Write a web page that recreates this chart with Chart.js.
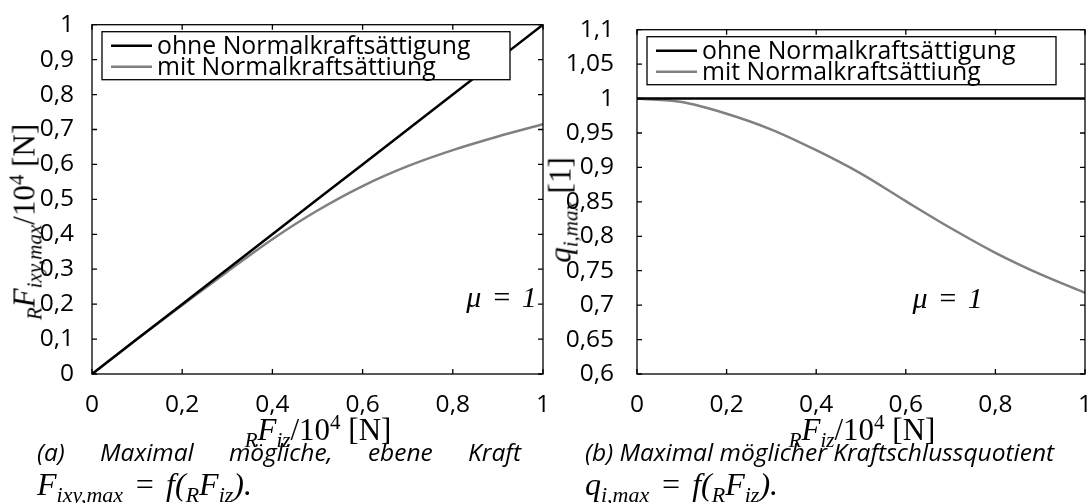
<!DOCTYPE html>
<html>
<head>
<meta charset="utf-8">
<script src="https://cdn.jsdelivr.net/npm/chart.js@4/dist/chart.umd.min.js"></script>
<style>
body { margin: 0; width: 1091px; height: 503px; overflow: hidden; background: #fff; position: relative; }
canvas { position: absolute; top: 0; }
.lbl { position: absolute; white-space: nowrap; font-family: "Liberation Serif", serif; font-size: 31px; color: #000; line-height: 1; }
.lbl i { font-style: italic; }
.lbl sub, .lbl sup { font-size: 21px; line-height: 0; }
.rot { transform: translate(-50%, -50%) rotate(-90deg); }
.cap { position: absolute; font-family: "Open Sans", sans-serif; font-style: italic; font-size: 24.5px; color: #000; line-height: 32px; white-space: nowrap; }
.cap .m { font-family: "Liberation Serif", serif; font-size: 32px; }
.cap sub { font-size: 22px; line-height: 0; }
</style>
</head>
<body>
<canvas id="chartA" width="560" height="420" style="left:0"></canvas>
<canvas id="chartB" width="555" height="420" style="left:545px"></canvas>

<div class="lbl" style="left:318px; top:414px; transform:translateX(-50%)"><i><sub>R</sub>F<sub>iz</sub></i>/10<sup>4</sup> [N]</div>
<div class="lbl" style="left:862px; top:414px; transform:translateX(-50%)"><i><sub>R</sub>F<sub>iz</sub></i>/10<sup>4</sup> [N]</div>
<div class="lbl rot" style="left:24px; top:222px"><i><sub>R</sub>F<sub>ixy,max</sub></i>/10<sup>4</sup> [N]</div>
<div class="lbl rot" style="left:560px; top:210px"><i>q<sub>i,max</sub></i> [1]</div>

<div class="cap" style="left:37px; top:436px; width:484px; text-align:justify; text-align-last:justify">(a) Maximal mögliche, ebene Kraft</div>
<div class="cap" style="left:37px; top:468px"><span class="m"><i>F<sub>ixy,max</sub></i>&#8196;=&#8196;<i>f</i>(<i><sub>R</sub>F<sub>iz</sub></i>).</span></div>
<div class="cap" style="left:585px; top:436px">(b) Maximal möglicher Kraftschlussquotient</div>
<div class="cap" style="left:585px; top:468px"><span class="m"><i>q<sub>i,max</sub></i>&#8196;=&#8196;<i>f</i>(<i><sub>R</sub>F<sub>iz</sub></i>).</span></div>

<script>
// values
const fz = [0, 0.1, 0.2, 0.3, 0.4, 0.5, 0.6, 0.7, 0.8, 0.9, 1];
const fxyOhne = [0, 0.1, 0.2, 0.3, 0.4, 0.5, 0.6, 0.7, 0.8, 0.9, 1];
const fxyMit = [0, 0.1, 0.197, 0.293, 0.386, 0.468, 0.538, 0.595, 0.641, 0.68, 0.715];
const qOhne = [1, 1, 1, 1, 1, 1, 1, 1, 1, 1, 1];
const qMit = [1, 0.995, 0.978, 0.955, 0.925, 0.891, 0.851, 0.812, 0.776, 0.745, 0.718];
const seriesNames = ['ohne Normalkraftsättigung', 'mit Normalkraftsättiung'];
const muText = '\u03bc\u2004=\u20041';

const tickFont = { family: 'Open Sans', size: 24.5 };
const fmt = v => String(Math.round(v * 100) / 100).replace('.', ',');
const pts = (xs, ys) => xs.map((x, i) => ({ x: x, y: ys[i] }));

// frame with inward ticks, legend box and the mu note
const framePlugin = {
    id: 'frame',
    afterDatasetsDraw(chart, args, opts) {
        const ctx = chart.ctx;
        const a = chart.chartArea;
        const sx = chart.scales.x, sy = chart.scales.y;
        ctx.save();
        ctx.strokeStyle = '#000';
        ctx.lineWidth = 1.3;
        ctx.strokeRect(a.left, a.top, a.right - a.left, a.bottom - a.top);
        ctx.beginPath();
        sx.ticks.forEach(t => {
            const px = sx.getPixelForValue(t.value);
            ctx.moveTo(px, a.bottom); ctx.lineTo(px, a.bottom - 5);
            ctx.moveTo(px, a.top); ctx.lineTo(px, a.top + 5);
        });
        sy.ticks.forEach(t => {
            const py = sy.getPixelForValue(t.value);
            ctx.moveTo(a.left, py); ctx.lineTo(a.left + 5, py);
            ctx.moveTo(a.right, py); ctx.lineTo(a.right - 5, py);
        });
        ctx.stroke();

        // legend
        const lx = a.left + 10, ly = a.top + 7;
        ctx.fillStyle = '#fff';
        ctx.fillRect(lx, ly, opts.boxW, 48);
        ctx.lineWidth = 1.3;
        ctx.strokeRect(lx, ly, opts.boxW, 48);
        chart.data.datasets.forEach((ds, i) => {
            const yy = ly + 14 + i * 21;
            ctx.strokeStyle = ds.borderColor;
            ctx.lineWidth = 2.5;
            ctx.beginPath();
            ctx.moveTo(lx + 9, yy); ctx.lineTo(lx + 50, yy);
            ctx.stroke();
            ctx.fillStyle = '#000';
            ctx.font = '24.8px "Open Sans"';
            ctx.textBaseline = 'middle';
            ctx.fillText(ds.label, lx + 55, yy + 1);
        });

        // mu = 1
        ctx.font = 'italic 30px "Liberation Serif"';
        ctx.fillStyle = '#000';
        ctx.textBaseline = 'middle';
        ctx.fillText(muText, sx.getPixelForValue(opts.mu[0]), sy.getPixelForValue(opts.mu[1]));
        ctx.restore();
    }
};

const baseScales = (yMin, yMax, yStep, yPad) => ({
    x: {
        type: 'linear', min: 0, max: 1,
        grid: { display: false }, border: { display: false },
        ticks: { stepSize: 0.2, font: tickFont, color: '#000', padding: 8, callback: fmt, maxRotation: 0 },
        afterFit: s => { s.height = 46; }
    },
    y: {
        min: yMin, max: yMax,
        grid: { display: false }, border: { display: false },
        ticks: { stepSize: yStep, font: tickFont, color: '#000', padding: yPad, callback: fmt },
        afterFit: s => { s.width = 92; }
    }
});

new Chart(document.getElementById('chartA'), {
    type: 'line',
    data: {
        datasets: [
            { label: seriesNames[0], data: pts(fz, fxyOhne), borderColor: '#000', borderWidth: 2.5, pointRadius: 0 },
            { label: seriesNames[1], data: pts(fz, fxyMit), borderColor: '#808080', borderWidth: 2.5, pointRadius: 0, cubicInterpolationMode: 'monotone' }
        ]
    },
    options: {
        responsive: false, animation: false,
        layout: { padding: { top: 18, right: 17, left: 0, bottom: 0 } },
        scales: baseScales(0, 1, 0.1, 10),
        plugins: { legend: { display: false }, tooltip: { enabled: false }, frame: { boxW: 408, mu: [0.83, 0.215] } }
    },
    plugins: [framePlugin]
});

new Chart(document.getElementById('chartB'), {
    type: 'line',
    data: {
        datasets: [
            { label: seriesNames[0], data: pts(fz, qOhne), borderColor: '#000', borderWidth: 2.5, pointRadius: 0 },
            { label: seriesNames[1], data: pts(fz, qMit), borderColor: '#808080', borderWidth: 2.5, pointRadius: 0, cubicInterpolationMode: 'monotone' }
        ]
    },
    options: {
        responsive: false, animation: false,
        layout: { padding: { top: 18, right: 13, left: 0, bottom: 0 } },
        scales: baseScales(0.6, 1.1, 0.05, 15),
        plugins: { legend: { display: false }, tooltip: { enabled: false }, frame: { boxW: 409, mu: [0.615, 0.707] } }
    },
    plugins: [framePlugin]
});
</script>
</body>
</html>
